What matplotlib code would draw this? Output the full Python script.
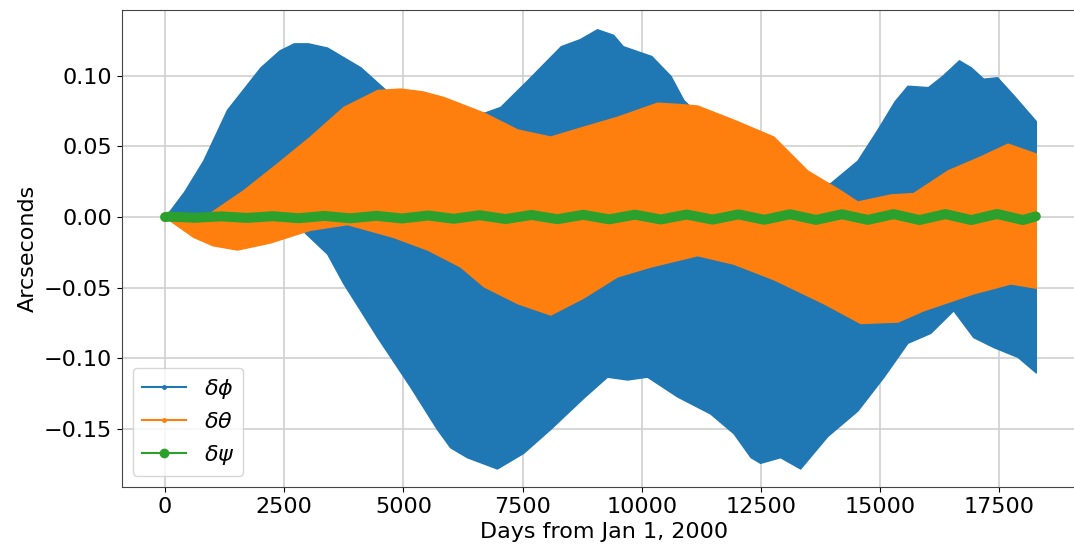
import matplotlib
matplotlib.use("Agg")
import matplotlib.pyplot as plt
from matplotlib.lines import Line2D

# ---- data (envelopes of the fast-oscillating series) ----
phi_up_days = [0, 400, 800, 1300, 2000, 2400, 2700, 3000, 3400, 4100, 4660, 5200, 5800, 6300, 6700, 7030,
               7600, 8300, 8700, 9060, 9400, 9600, 10200, 10600, 10870, 11500, 12200, 13000, 13500,
               13950, 14520, 14940, 15300, 15570, 16000, 16300, 16650, 16900, 17160, 17450, 17800, 18262]
phi_up = [0.0, 0.018, 0.040, 0.076, 0.106, 0.118, 0.123, 0.123, 0.120, 0.106, 0.089, 0.083, 0.078, 0.075, 0.074, 0.078,
          0.097, 0.121, 0.126, 0.133, 0.129, 0.121, 0.114, 0.100, 0.083, 0.062, 0.048, 0.035, 0.025,
          0.024, 0.040, 0.062, 0.082, 0.093, 0.092, 0.100, 0.111, 0.106, 0.098, 0.099, 0.086, 0.068]

phi_lo_days = [0, 1500, 2500, 2900, 3400, 3740, 4450, 5140, 5700, 5980, 6330, 6960, 7510, 8080,
               8770, 9270, 9690, 10110, 10740, 11430, 11920, 12280, 12480, 12900, 13320, 13890,
               14520, 15070, 15570, 16050, 16530, 16950, 17370, 17880, 18262]
phi_lo = [0.0, -0.005, -0.008, -0.010, -0.026, -0.047, -0.085, -0.120, -0.150, -0.163, -0.170, -0.178, -0.167, -0.150,
          -0.128, -0.113, -0.115, -0.113, -0.127, -0.139, -0.153, -0.170, -0.174, -0.170, -0.178, -0.155,
          -0.137, -0.113, -0.089, -0.082, -0.066, -0.085, -0.092, -0.099, -0.110]

theta_up_days = [0, 944, 1640, 2350, 3040, 3740, 4450, 4930, 5400, 5840, 6680, 7390, 8080, 8770,
                 9480, 10320, 10800, 11160, 11920, 12760, 13470, 14160, 14520, 15210, 15690, 16410,
                 17100, 17670, 18262]
theta_up = [0.0, 0.003, 0.019, 0.038, 0.057, 0.078, 0.090, 0.091, 0.089, 0.085, 0.074, 0.062, 0.057, 0.064,
            0.071, 0.081, 0.080, 0.079, 0.069, 0.057, 0.033, 0.019, 0.011, 0.016, 0.017, 0.033,
            0.043, 0.052, 0.045]

theta_lo_days = [0, 590, 1000, 1510, 2200, 3040, 3820, 4780, 5500, 6190, 6680, 7390, 8080, 8770,
                 9480, 10180, 11160, 11920, 12760, 13810, 14580, 15360, 15900, 16950, 17730, 18262]
theta_lo = [0.0, -0.014, -0.020, -0.023, -0.018, -0.009, -0.005, -0.014, -0.023, -0.035, -0.049, -0.061, -0.069, -0.057,
            -0.042, -0.035, -0.027, -0.033, -0.044, -0.061, -0.075, -0.074, -0.066, -0.054, -0.047, -0.050]

psi_days = [0, 90, 632, 1175, 1717, 2260, 2802, 3345, 3887, 4430, 4972, 5515, 6057, 6600, 7142,
            7685, 8227, 8770, 9312, 9855, 10397, 10940, 11482, 12025, 12567, 13110, 13652,
            14195, 14737, 15280, 15822, 16365, 16907, 17450, 17992, 18262]
psi = [0.0, 0.0003, -0.0005, 0.0005, -0.0006, 0.0006, -0.0008, 0.0008, -0.0009, 0.0009, -0.0010,
       0.0011, -0.0012, 0.0013, -0.0014, 0.0015, -0.0015, 0.0016, -0.0016, 0.0017, -0.0017, 0.0018,
       -0.0018, 0.0019, -0.0019, 0.0020, -0.0020, 0.0020, -0.0020, 0.0021, -0.0021, 0.0021, -0.0021,
       0.0022, -0.0021, 0.0005]

labels = [r'$\delta\phi$', r'$\delta\theta$', r'$\delta\psi$']
xticks = [0, 2500, 5000, 7500, 10000, 12500, 15000, 17500]
yticks = [-0.15, -0.10, -0.05, 0.00, 0.05, 0.10]

# ---- drawing ----
c_blue, c_orange, c_green = '#1f77b4', '#ff7f0e', '#2ca02c'
plt.rcParams['font.size'] = 16

fig = plt.figure(figsize=(10.74, 5.52), dpi=100)
ax = fig.add_axes([121.5 / 1074, 65 / 552, 965 / 1074, 477 / 552])

ax.fill_between(phi_up_days, phi_up, 0, color=c_blue, lw=1, zorder=2)
ax.fill_between(phi_lo_days, phi_lo, 0, color=c_blue, lw=1, zorder=2)
ax.fill_between(theta_up_days, theta_up, 0, color=c_orange, lw=1, zorder=3)
ax.fill_between(theta_lo_days, theta_lo, 0, color=c_orange, lw=1, zorder=3)
ax.plot(psi_days, psi, color=c_green, lw=7.2, solid_capstyle='round', zorder=4)

ax.set_xlim(-913, 19325)
ax.set_ylim(-0.1911, 0.1466)
ax.set_xticks(xticks)
ax.set_yticks(yticks)
ax.set_yticklabels([f'{v:.2f}'.replace('-', '\u2212') for v in yticks])
ax.grid(True, color='#d0d0d0', lw=1.2)
ax.set_axisbelow(True)
ax.set_xlabel('Days from Jan 1, 2000')
ax.set_ylabel('Arcseconds')
for s in ax.spines.values():
    s.set_color('#444444')
ax.spines['right'].set_visible(False)

handles = [Line2D([], [], color=c_blue, marker='.', markersize=5, lw=1.5),
           Line2D([], [], color=c_orange, marker='.', markersize=5, lw=1.5),
           Line2D([], [], color=c_green, marker='o', markersize=6, lw=1.5)]
ax.legend(handles, labels, loc='lower left', fontsize=16, handlelength=2.0)

fig.savefig('out.png', dpi=100)
